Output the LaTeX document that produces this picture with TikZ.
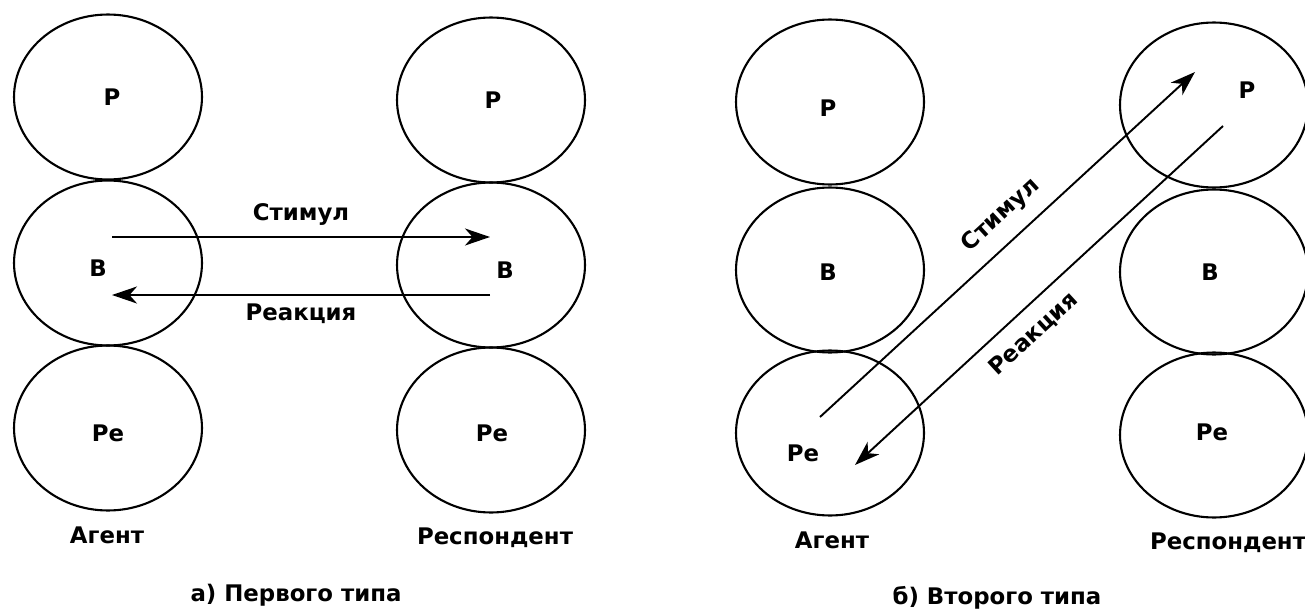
\documentclass[tikz,border=0pt]{standalone}
\usepackage{fontspec}
\setmainfont{DejaVu Sans}
\usetikzlibrary{shapes.geometric, arrows.meta, positioning}
\tikzset{
  ego/.style={draw, ellipse, line width=1.2pt, minimum width=3.76cm, minimum height=3.3cm, inner sep=0pt},
  lbl/.style={font=\bfseries\fontsize{13}{15}\selectfont, inner sep=1pt},
  flow/.style={line width=1.1pt, -{Stealth[length=5mm, width=3.4mm, inset=1.5mm]}}
}

\begin{document}
\begin{tikzpicture}[x=0.02cm, y=-0.02cm]
    \useasboundingbox (0,0) rectangle (1305,612);

    % a) first type: agent
    \node[ego] (aP)  at (108,97)  {};
    \node[ego] (aB)  at (108,263) {};
    \node[ego] (aPe) at (108,428) {};
    \node[lbl] (aPt)  at (112,97)  {Р};
    \node[lbl] (aBt)  at (98,268)  {В};
    \node[lbl] (aPet) at (108,433) {Ре};
    % a) first type: respondent
    \node[ego] (rP)  at (491,100) {};
    \node[ego] (rB)  at (491,265) {};
    \node[ego] (rPe) at (491,430) {};
    \node[lbl] (rPt)  at (493,100) {Р};
    \node[lbl] (rBt)  at (505,270) {В};
    \node[lbl] (rPet) at (492,433) {Ре};

    % Transaction, first type
    \coordinate (s1a) at (112,237);
    \coordinate (s1b) at (490,237);
    \coordinate (r1a) at (490,295);
    \coordinate (r1b) at (112,295);
    \draw[flow] (s1a) -- (s1b) node[lbl, midway, above=5pt] (s1t) {Стимул};
    \draw[flow] (r1a) -- (r1b) node[lbl, midway, below=3.5pt] (r1t) {Реакция};

    \node[lbl] (aName) at (107,535) {Агент};
    \node[lbl] (rName) at (495,538) {Респондент};
    \node[lbl] (capA)  at (296,595) {а) Первого типа};

    % b) second type: agent
    \node[ego] (bP)  at (830,102) {};
    \node[ego] (bB)  at (830,270) {};
    \node[ego] (bPe) at (830,433) {};
    \node[lbl] (bPt)  at (828,108) {Р};
    \node[lbl] (bBt)  at (828,272) {В};
    \node[lbl] (bPet) at (803,453) {Ре};
    % b) second type: respondent
    \node[ego] (qP)  at (1214,105) {};
    \node[ego] (qB)  at (1214,272) {};
    \node[ego] (qPe) at (1214,435) {};
    \node[lbl] (qPt)  at (1247,90)  {Р};
    \node[lbl] (qBt)  at (1210,272) {В};
    \node[lbl] (qPet) at (1212,432) {Ре};

    % Transaction, second type
    \coordinate (s2a) at (820,417);
    \coordinate (s2b) at (1195,72);
    \coordinate (r2a) at (1223,126);
    \coordinate (r2b) at (855,465);
    \draw[flow] (s2a) -- (s2b) node[lbl, pos=0.53, above=7pt, sloped] (s2t) {Стимул};
    \draw[flow] (r2a) -- (r2b) node[lbl, pos=0.56, below=7pt, sloped] (r2t) {Реакция};

    \node[lbl] (bName) at (832,540)  {Агент};
    \node[lbl] (qName) at (1228,543) {Респондент};
    \node[lbl] (capB)  at (997,598)  {б) Второго типа};
\end{tikzpicture}
\end{document}
